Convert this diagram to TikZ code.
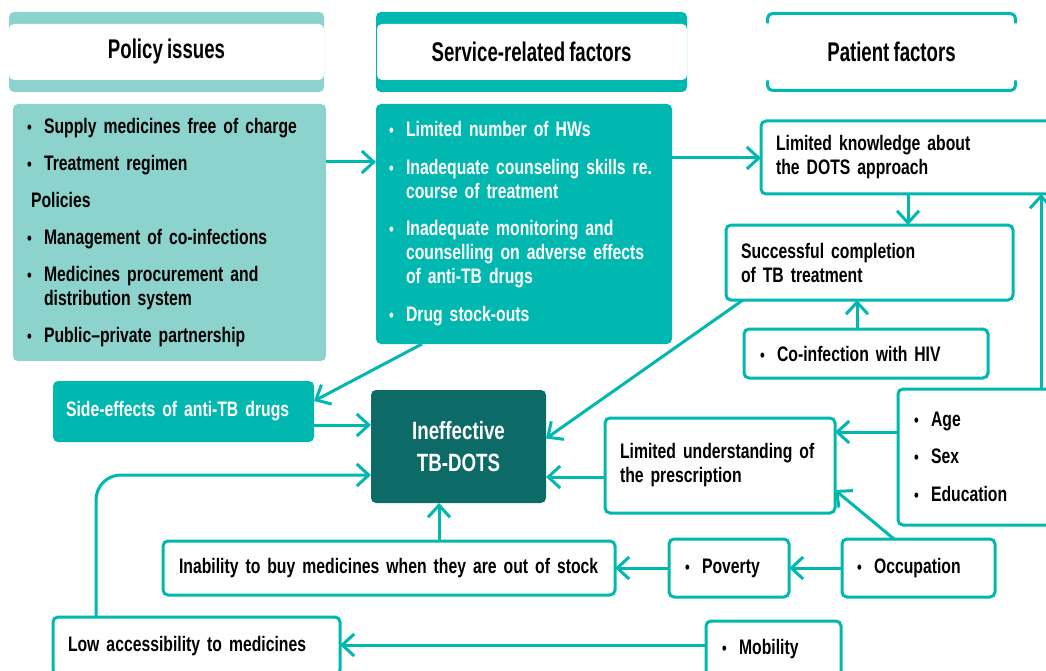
\documentclass[tikz,border=0pt]{standalone}
\usepackage{fontspec}
\setmainfont{Liberation Sans}[FakeStretch=0.75, WordSpace=0.8]
\newfontfamily\headfont{Liberation Sans}[FakeStretch=0.69, WordSpace=0.8]
\usetikzlibrary{arrows.meta}
\definecolor{tbteal}{RGB}{0,184,175}
\definecolor{tblight}{RGB}{140,211,205}
\definecolor{tbdark}{RGB}{12,107,102}
\newcommand{\bodyfont}{\bfseries\fontsize{21}{24}\selectfont}
\newlength{\padw}
\newcommand{\pad}[1]{\setlength{\padw}{#1pt}}
\newcommand{\pl}{\hspace*{\padw}}
\newcommand{\bul}{\hspace*{\padw}\makebox[17pt][l]{\scalebox{0.85}{\textbullet}}}
\newcommand{\cont}{\hspace*{\padw}\hspace*{17pt}}

\begin{document}
\begin{tikzpicture}[x=1pt, y=-1pt,
	base/.style={inner sep=0pt, outer sep=0pt, rounded corners=5pt, anchor=north west, font=\bodyfont, align=left},
	obox/.style={base, draw=tbteal, line width=3pt, fill=white},
	tbox/.style={base, fill=tbteal, text=white},
	lbox/.style={base, fill=tblight},
	head/.style={inner sep=0pt, outer sep=0pt, anchor=north west, rounded corners=5pt, minimum width=315pt, minimum height=80pt, font=\headfont\bfseries\fontsize{27}{30}\selectfont},
	arr/.style={draw=tbteal, line width=3pt, -{Straight Barb[length=12pt, width=22pt]}}]
							\useasboundingbox (0,0) rectangle (1046,671);
							\clip (0,0) rectangle (1046,671);
							
							\node[head, fill=tblight, path picture={\fill[white] ([yshift=-12pt]path picture bounding box.north west) rectangle ([yshift=12pt]path picture bounding box.south east);}] (hpol) at (9,12) {Policy issues};
							\node[head, minimum width=311pt, fill=tbteal, path picture={\fill[white] ([xshift=1pt, yshift=-12pt]path picture bounding box.north west) rectangle ([yshift=12pt]path picture bounding box.south east);}] (hsvc) at (376,12) {Service-related factors};
							\node[head, minimum width=248pt, minimum height=77pt] (hpat) at (767.5,13.5) {Patient factors};
							\draw[tbteal, line width=3pt, rounded corners=5pt] ([yshift=-10pt]hpat.north west) -- (hpat.north west) -- (hpat.north east) -- ([yshift=-10pt]hpat.north east);
							\draw[tbteal, line width=3pt, rounded corners=5pt] ([yshift=10pt]hpat.south west) -- (hpat.south west) -- (hpat.south east) -- ([yshift=10pt]hpat.south east);
							
							\node[lbox, text width=313pt, minimum height=257pt] (pol) at (13,104) {\pad{14}\bul Supply medicines free of charge\\[13pt]
								\bul Treatment regimen\\[13pt]
								\pl\hspace*{4pt}Policies\\[13pt]
								\bul Management of co-infections\\[13pt]
								\bul Medicines procurement and\\
								\cont distribution system\\[13pt]
								\bul Public--private partnership};
							\node[tbox, text width=296pt, minimum height=240pt] (svc) at (376,104) {\pad{13}\bul Limited number of HWs\\[14pt]
								\bul Inadequate counseling skills re.\\
								\cont course of treatment\\[13pt]
								\bul Inadequate monitoring and\\
								\cont counselling on adverse effects\\
								\cont of anti-TB drugs\\[14pt]
								\bul Drug stock-outs};
							\node[obox, text width=300pt, minimum height=73pt] (know) at (761,121) {\pad{15}\pl Limited knowledge about\\\pl the DOTS approach};
							\node[obox, text width=287pt, minimum height=75pt] (succ) at (726,225) {\pad{15}\pl Successful completion\\\pl of TB treatment};
							\node[obox, text width=244pt, minimum height=49pt] (hiv) at (744,329) {\pad{16}\bul Co-infection with HIV};
							\node[obox, text width=162pt, minimum height=136pt] (age) at (898,389) {\pad{16}\bul Age\\[13pt]\bul Sex\\[14pt]\bul Education};
							\node[obox, text width=230pt, minimum height=95pt] (under) at (605,418) {\pad{15}\pl Limited understanding of\\\pl the prescription};
							\node[obox, text width=153pt, minimum height=58pt] (occ) at (842,539) {\pad{15}\bul Occupation};
							\node[obox, text width=120pt, minimum height=58pt] (pov) at (669,539) {\pad{16}\bul Poverty};
							\node[obox, text width=452pt, minimum height=54pt] (inab) at (163,541) {\pad{16}\pl Inability to buy medicines when they are out of stock};
							\node[obox, text width=287pt, minimum height=58pt] (low) at (53,617) {\pad{15}\pl Low accessibility to medicines};
							\node[obox, text width=135pt, minimum height=56pt] (mob) at (706,621) {\pad{16}\bul Mobility};
							\node[tbox, text width=261pt, minimum height=61pt] (side) at (53,381) {\pad{13}\pl Side-effects of anti-TB drugs};
							\node[base, fill=tbdark, text=white, align=center, minimum width=175pt, minimum height=113pt, font=\bfseries\fontsize{25}{32}\selectfont] (ineff) at (371,390) {Ineffective\\TB-DOTS};
							
							\draw[arr] (pol.east |- 0,162) -- (svc.west |- 0,162);
							\draw[arr] (svc.east |- 0,158) -- (know.west |- 0,158);
							\draw[arr] (know.south -| 908,0) -- (succ.north -| 908,0);
							\draw[arr] (age.north -| 1041,0) -- (know.south -| 1041,0);
							\draw[arr] (hiv.north -| 857,0) -- (succ.south -| 857,0);
							\draw[arr] ([xshift=17pt]succ.south west) -- ([yshift=8pt]ineff.east);
							\draw[arr] (age.west |- 0,432) -- (under.east |- 0,432);
							\draw[arr] (occ.north -| 894,0) -- (under.east |- 0,490);
							\draw[arr] (under.west |- 0,477) -- (ineff.east |- 0,477);
							\draw[arr] (occ.west) -- (pov.east);
							\draw[arr] (pov.west) -- (inab.east);
							\draw[arr] (inab.north -| 439,0) -- (ineff.south -| 439,0);
							\draw[arr] ([xshift=46pt]svc.south west) -- (side.east |- 0,401);
							\draw[arr] (side.east |- 0,425) -- (ineff.west |- 0,425);
							\draw[arr, rounded corners=25pt] (low.north -| 96,0) |- (ineff.west |- 0,475);
							\draw[arr] (mob.west |- 0,645) -- (low.east |- 0,645);
						\end{tikzpicture}
\end{document}
